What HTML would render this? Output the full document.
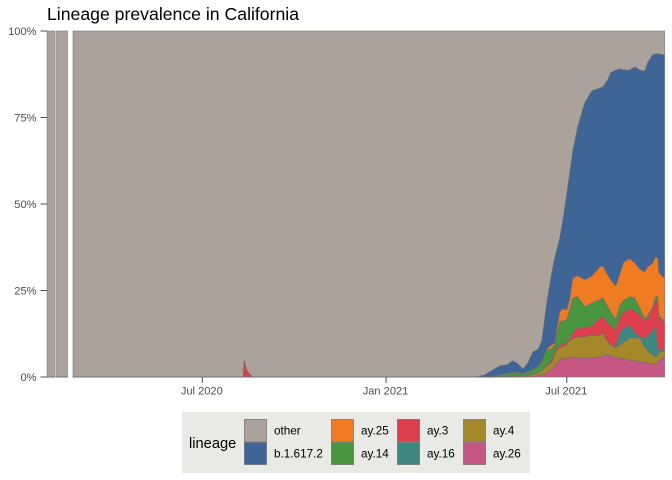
<!DOCTYPE html>
<html>
<head>
<meta charset="utf-8">
<style>
html,body{margin:0;padding:0;background:#fff;}
svg{display:block;font-family:"Liberation Sans",sans-serif;}
</style>
</head>
<body>
<svg id="chart" width="672" height="480" viewBox="0 0 672 480" xmlns="http://www.w3.org/2000/svg">
<rect x="0" y="0" width="672" height="480" fill="#ffffff"/>
<text x="47" y="20" font-size="17.65" fill="#000">Lineage prevalence in California</text>
<g id="areas"></g>
<g id="axes"></g>
<g>
<rect x="182" y="412" width="348" height="61" fill="#e9e9e5"/>
<text x="189" y="448" font-size="14.67" fill="#000">lineage</text>
<g id="legend-items"></g>
</g>
</svg>
<script>
// Days since 2020-07-01
const dates = [-155.5,-147.4,-146,-135,-129.5,41,42,44,46,48,50,275, 283,290,298,305,311,316,321,326,331,336,340,345,350,353,355,358,361,365,368,371,376,383,390,398,401,406,409,414,418,422,428,433,438,443,446,451,454,456,457,461,463];
// Dates after which there is no data (gaps in the area)
const gapAfter = [-147.4,-135];
const ay26 = [0,0,0,0,0,0,0,0,0,0,0,0, 0,0,0,0,0,0,0,0,.1,.4,.6,1.2,2.3,2.9,4.0,4.9,5.2,5.5,5.5,5.8,5.5,5.5,5.5,5.8,6.1,6.4,6.1,5.5,5.5,5.2,4.9,4.6,4.3,4.3,4.0,3.8,3.5,4.0,4.6,5.5,5.5];
const ay4 = [0,0,0,0,0,0,0,0,0,0,0,0, 0,0,.1,.1,.2,.2,.3,.4,.6,.7,1.2,2.0,2.0,3.2,3.8,3.5,3.5,3.8,5.2,5.2,6.1,6.1,6.6,6.1,6.6,3.8,3.2,2.9,3.8,4.9,6.4,6.6,6.9,4.3,3.5,2.6,2.3,2.0,2.3,2.0,2.0];
const ay16 = [0,0,0,0,0,0,0,0,0,0,0,0, 0,0,0,0,0,0,0,0,0,0,0,0,0,0,0,0,0,0,0,0,0,0,0,0,0,0,0,.3,3.5,4.0,3.5,1.7,.3,2.6,4.3,6.9,8.7,2.6,.9,.3,.3];
const ay3 = [0,0,0,0,0,0,4.6,2.3,1.2,.6,0,0, 0,0,0,.1,.1,.1,.1,.1,.1,.1,.1,.3,.6,1.2,.6,.6,.9,.6,.6,1.7,2.6,2.6,2.6,5.2,4.6,5.5,5.5,4.9,4.3,4.6,4.9,6.1,6.4,5.2,4.9,6.6,7.2,13.6,9.5,8.4,8.4];
const ay14 = [0,0,0,0,0,0,0,0,0,0,0,0, 0,.1,.3,.8,.9,.9,.4,.9,1.2,1.7,2.5,4.3,3.2,2.0,3.5,6.9,6.6,6.6,8.1,10.1,9.0,6.1,6.6,5.2,5.5,4.6,4.0,2.9,3.5,3.5,3.5,3.8,2.0,.6,.9,.3,1.4,1.2,.6,.3,.3];
const ay25 = [0,0,0,0,0,0,0,0,0,0,0,0, 0,0,.1,.1,.1,.1,.1,.1,.1,.1,.1,.3,1.2,.6,1.4,2.9,3.5,2.9,2.9,5.8,6.1,7.8,7.8,9.5,9.2,9.2,9.2,9.8,9.0,11.0,11.0,10.1,11.3,13.3,14.2,12.7,11.6,11.0,12.4,12.4,12.4];
const b16172 = [0,0,0,0,0,0,0,0,0,0,0,0, .6,1.8,2.7,2.4,3.4,2.5,1.4,2.5,5.1,4.9,5.9,13.3,20.8,24.6,23.4,21.4,25.4,33.5,36.7,36.7,43.1,51.2,53.5,51.7,51.7,56.4,59.8,62.4,59.5,55.5,54.6,56.6,57.5,58.1,59.0,60.1,58.7,59.0,63.0,64.2,64.2];
const other = [100,100,100,100,100,100,95.4,97.7,98.8,99.4,100,100, 99.4,98.0,96.8,96.5,95.4,96.2,97.7,96.0,92.8,91.9,89.6,78.6,69.9,65.6,63.3,59.8,54.9,47.1,41.0,34.7,27.7,20.8,17.3,16.5,16.2,14.2,12.1,11.3,11.0,11.3,11.3,10.4,11.3,11.6,9.2,6.9,6.6,6.6,6.6,6.9,6.9];

const yTicks = [0,25,50,75,100];
const yTickLabels = ['0%','25%','50%','75%','100%'];
const xTicks = [0,184,365];
const xTickLabels = ['Jul 2020','Jan 2021','Jul 2021'];

const stackNames = ['ay.26','ay.4','ay.16','ay.3','ay.14','ay.25','b.1.617.2','other'];
const stackValues = [ay26,ay4,ay16,ay3,ay14,ay25,b16172,other];
const stackColors = ['#c65785','#a5882a','#3e8781','#dc3f4b','#4a9540','#ef7b22','#3f6496','#aca29c'];
const legendOrder = [[7,244,419],[6,244,442],[5,331,419],[4,331,442],[3,397,419],[2,397,442],[1,463,419],[0,463,442]];

const NS = 'http://www.w3.org/2000/svg';
function xScale(d){return 202.3 + d*0.9986;}
function yScale(v){return 377 - v*3.46;}
function make(tag,attrs,parent){
  const el=document.createElementNS(NS,tag);
  for(const k in attrs){el.setAttribute(k,attrs[k]);}
  parent.appendChild(el);
  return el;
}
const areas=document.getElementById('areas');
const axes=document.getElementById('axes');
const legendItems=document.getElementById('legend-items');

// Split the dates into continuous spans
const spans=[];
let cur=[];
dates.forEach(function(d,i){
  cur.push(i);
  if(gapAfter.indexOf(d)>=0){spans.push(cur);cur=[];}
});
spans.push(cur);

// Cumulative normalised stack
const lower=[];
const upper=[];
stackValues.forEach(function(){lower.push([]);upper.push([]);});
dates.forEach(function(d,i){
  let total=0;
  stackValues.forEach(function(s){total+=s[i];});
  let run=0;
  stackValues.forEach(function(s,k){
    lower[k].push(run);
    run+=s[i]/total*100;
    upper[k].push(run);
  });
});

for(let k=stackValues.length-1;k>=0;k--){
  let path='';
  spans.forEach(function(s){
    const top=s.map(function(i){return xScale(dates[i]).toFixed(2)+','+yScale(upper[k][i]).toFixed(2);});
    const bottom=s.slice().reverse().map(function(i){return xScale(dates[i]).toFixed(2)+','+yScale(lower[k][i]).toFixed(2);});
    path+='M'+top.join('L')+'L'+bottom.join('L')+'Z';
  });
  const el=make('path',{d:path,fill:stackColors[k],stroke:'#6e6e6e','stroke-width':0.7,'stroke-opacity':0.75,'stroke-linejoin':'round'},areas);
  
  
}

yTicks.forEach(function(v,i){
  const t=make('line',{x1:40.5,x2:47,y1:yScale(v),y2:yScale(v),stroke:'#4d4d4d','stroke-width':1},axes);
  
  
  const l=make('text',{x:36.5,y:yScale(v)+4,'text-anchor':'end','font-size':11.1,fill:'#4d4d4d'},axes);
  l.textContent=yTickLabels[i];
  
  
});
xTicks.forEach(function(d,i){
  const t=make('line',{x1:xScale(d),x2:xScale(d),y1:377,y2:383,stroke:'#4d4d4d','stroke-width':1},axes);
  
  
  const l=make('text',{x:xScale(d)-0.5,y:394.5,'text-anchor':'middle','font-size':11.1,fill:'#4d4d4d'},axes);
  l.textContent=xTickLabels[i];
  
  
});

legendOrder.forEach(function(e){
  const k=e[0];
  const r=make('rect',{x:e[1]+.4,y:e[2]+.4,width:22.2,height:22.2,fill:stackColors[k],stroke:'#7a7a7a','stroke-width':0.7},legendItems);
  
  
  const l=make('text',{x:e[1]+30,y:e[2]+15.5,'font-size':11.73,fill:'#000'},legendItems);
  l.textContent=stackNames[k];
  
  
});
</script>
</body>
</html>
